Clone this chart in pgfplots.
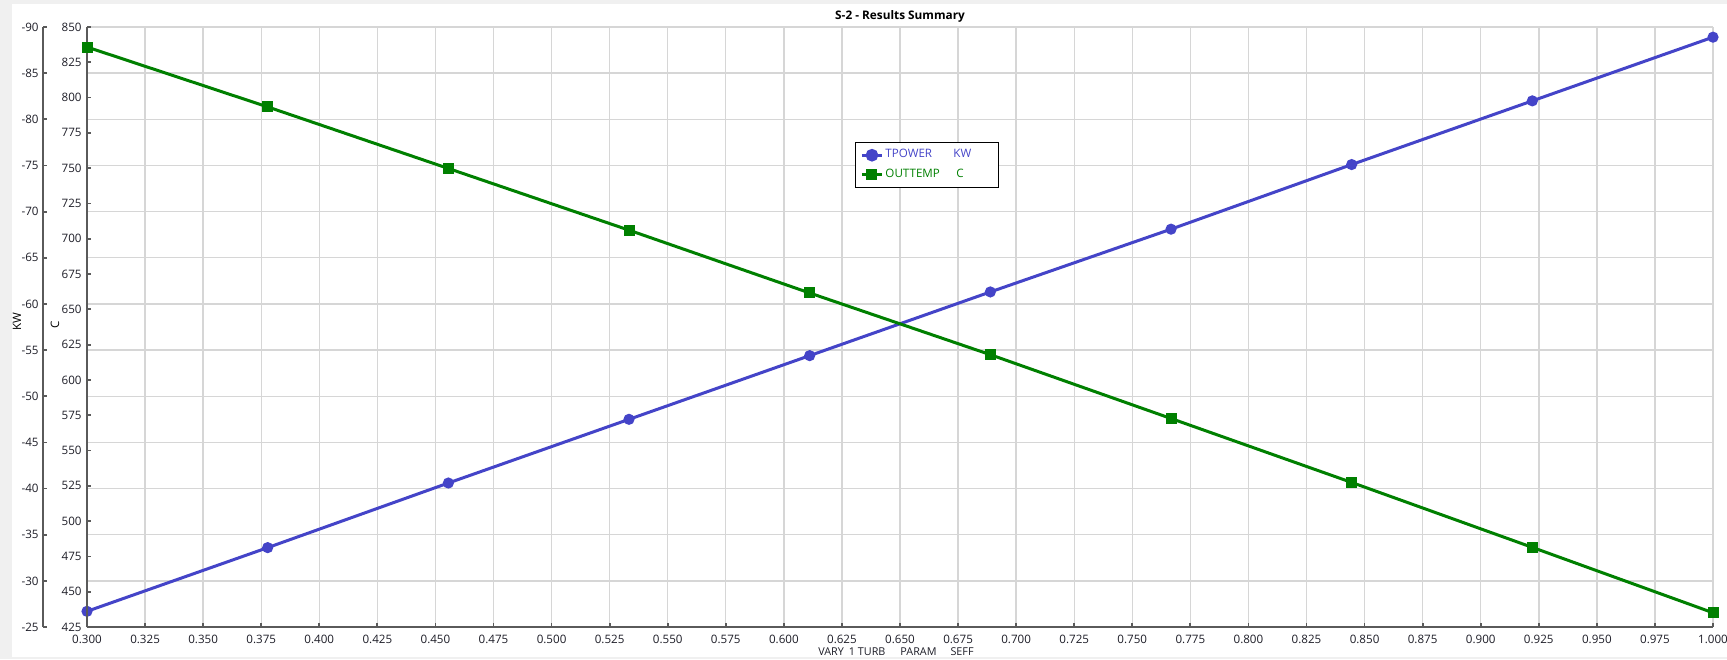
\documentclass[border=0pt]{standalone}
\usepackage{pgfplots}
\pgfplotsset{compat=1.18}
\usepackage{fontspec}
\setmainfont{Open Sans}
\definecolor{tpblue}{RGB}{68,68,200}
\definecolor{otgreen}{RGB}{0,128,0}
\definecolor{bggrey}{RGB}{240,240,240}
\definecolor{gridgrey}{RGB}{214,214,214}
\definecolor{axgrey}{RGB}{90,90,90}
\definecolor{lbl}{RGB}{30,30,40}
\newcommand{\tfont}{\fontsize{5.8}{6.8}\selectfont}
\pgfplotsset{
  base/.style={
    scale only axis, width=813pt, height=300pt,
    anchor=south west, at={(43.5pt,-313.5pt)},
    xmin=0.3, xmax=1.0,
    xtick={0.3,0.325,0.35,0.375,0.4,0.425,0.45,0.475,0.5,0.525,0.55,0.575,0.6,0.625,0.65,0.675,0.7,0.725,0.75,0.775,0.8,0.825,0.85,0.875,0.9,0.925,0.95,0.975,1.0},
    tick label style={font=\tfont, text=lbl},
    /pgf/number format/assume math mode=true,
  },
}
\begin{document}
\begin{tikzpicture}[x=0.5pt,y=-0.5pt]
\fill[bggrey] (0,0) rectangle (1727,659);
\fill[white] (12,4) rectangle (1727,657);

% grid + TPOWER (KW scale)
\begin{axis}[base,
  ymin=-90, ymax=-25, y dir=reverse,
  ytick={-90,-85,-80,-75,-70,-65,-60,-55,-50,-45,-40,-35,-30,-25},
  grid=major, major grid style={gridgrey, line width=0.7pt},
  axis line style={draw=none},
  xticklabels={}, yticklabels={}, major tick length=0pt]
\addplot[tpblue, line width=1.5pt, mark=*, mark size=2pt, mark options={solid}] coordinates {
 (0.3,-26.7) (0.37778,-33.6) (0.45556,-40.6) (0.53333,-47.5) (0.61111,-54.4)
 (0.68889,-61.3) (0.76667,-68.1) (0.84444,-75.1) (0.92222,-82.0) (1.0,-88.9)};
\end{axis}

% KW axis (outer left)
\begin{axis}[scale only axis, width=22pt, height=300pt,
  anchor=south west, at={(21.5pt,-313.5pt)},
  xmin=0, xmax=1, ymin=-90, ymax=-25, y dir=reverse,
  axis y line*=left, axis x line=none,
  ytick={-90,-85,-80,-75,-70,-65,-60,-55,-50,-45,-40,-35,-30,-25},
  axis line style={axgrey, line width=0.9pt},
  tick style={axgrey, line width=0.9pt},
  tick align=inside, major tick length=2pt,
  tick label style={font=\tfont, text=lbl},
  yticklabel style={inner sep=0pt, xshift=-2pt},
  /pgf/number format/assume math mode=true]
\end{axis}

% C axis + OUTTEMP
\begin{axis}[base,
  ymin=425, ymax=850,
  ytick={425,450,475,500,525,550,575,600,625,650,675,700,725,750,775,800,825,850},
  axis x line*=bottom, axis y line*=left,
  axis line style={axgrey, line width=0.9pt},
  tick style={axgrey, line width=0.9pt},
  tick align=inside, major tick length=2pt,
  xticklabel style={inner sep=0pt, yshift=-4pt, /pgf/number format/.cd, fixed, fixed zerofill, precision=3},
  yticklabel style={inner sep=0pt, xshift=-2.5pt},
  legend image code/.code={\draw[mark repeat=2,mark phase=2,#1] plot coordinates {(0pt,0pt)(5pt,0pt)(10pt,0pt)};},
  legend style={at={(0.4723,0.8083)}, anchor=north west, draw=black, line width=0.5pt,
    fill=white, font=\tfont, inner xsep=2.5pt, inner ysep=1.5pt, row sep=0pt,
    nodes={inner xsep=1pt, inner ysep=2pt}},
  legend cell align=left]
\addlegendimage{tpblue, line width=1.5pt, mark=*, mark size=2.4pt, mark options={solid}}
\addlegendentry{\textcolor{tpblue}{\makebox[34pt][l]{TPOWER}\makebox[19pt][l]{KW}}}
\addplot[otgreen, line width=1.5pt, mark=square*, mark size=2pt, mark options={solid}] coordinates {
 (0.3,835.8) (0.37778,793.4) (0.45556,749.8) (0.53333,706.1) (0.61111,661.6)
 (0.68889,617.9) (0.76667,572.7) (0.84444,527.4) (0.92222,481.4) (1.0,435.1)};
\addlegendentry{\textcolor{otgreen}{\makebox[34pt][l]{OUTTEMP}\makebox[19pt][l]{\hspace{1.5pt}C}}}
\end{axis}

\node[font=\bfseries\fontsize{5.9}{7}\selectfont, text=black] at (900,16) {S-2 - Results Summary};
\node[rotate=90, font=\tfont, text=black] at (17,322) {KW};
\node[rotate=90, font=\tfont, text=black] at (55,325) {C};
\node[anchor=north west, inner sep=0pt, font=\fontsize{5.4}{6}\selectfont, text=lbl] at (818,647) {VARY\hspace{2.5pt}1 TURB\hspace{7.5pt}PARAM\hspace{7pt}SEFF};
\pgfresetboundingbox
\useasboundingbox (0,0) rectangle (1727,659);
\end{tikzpicture}
\end{document}
